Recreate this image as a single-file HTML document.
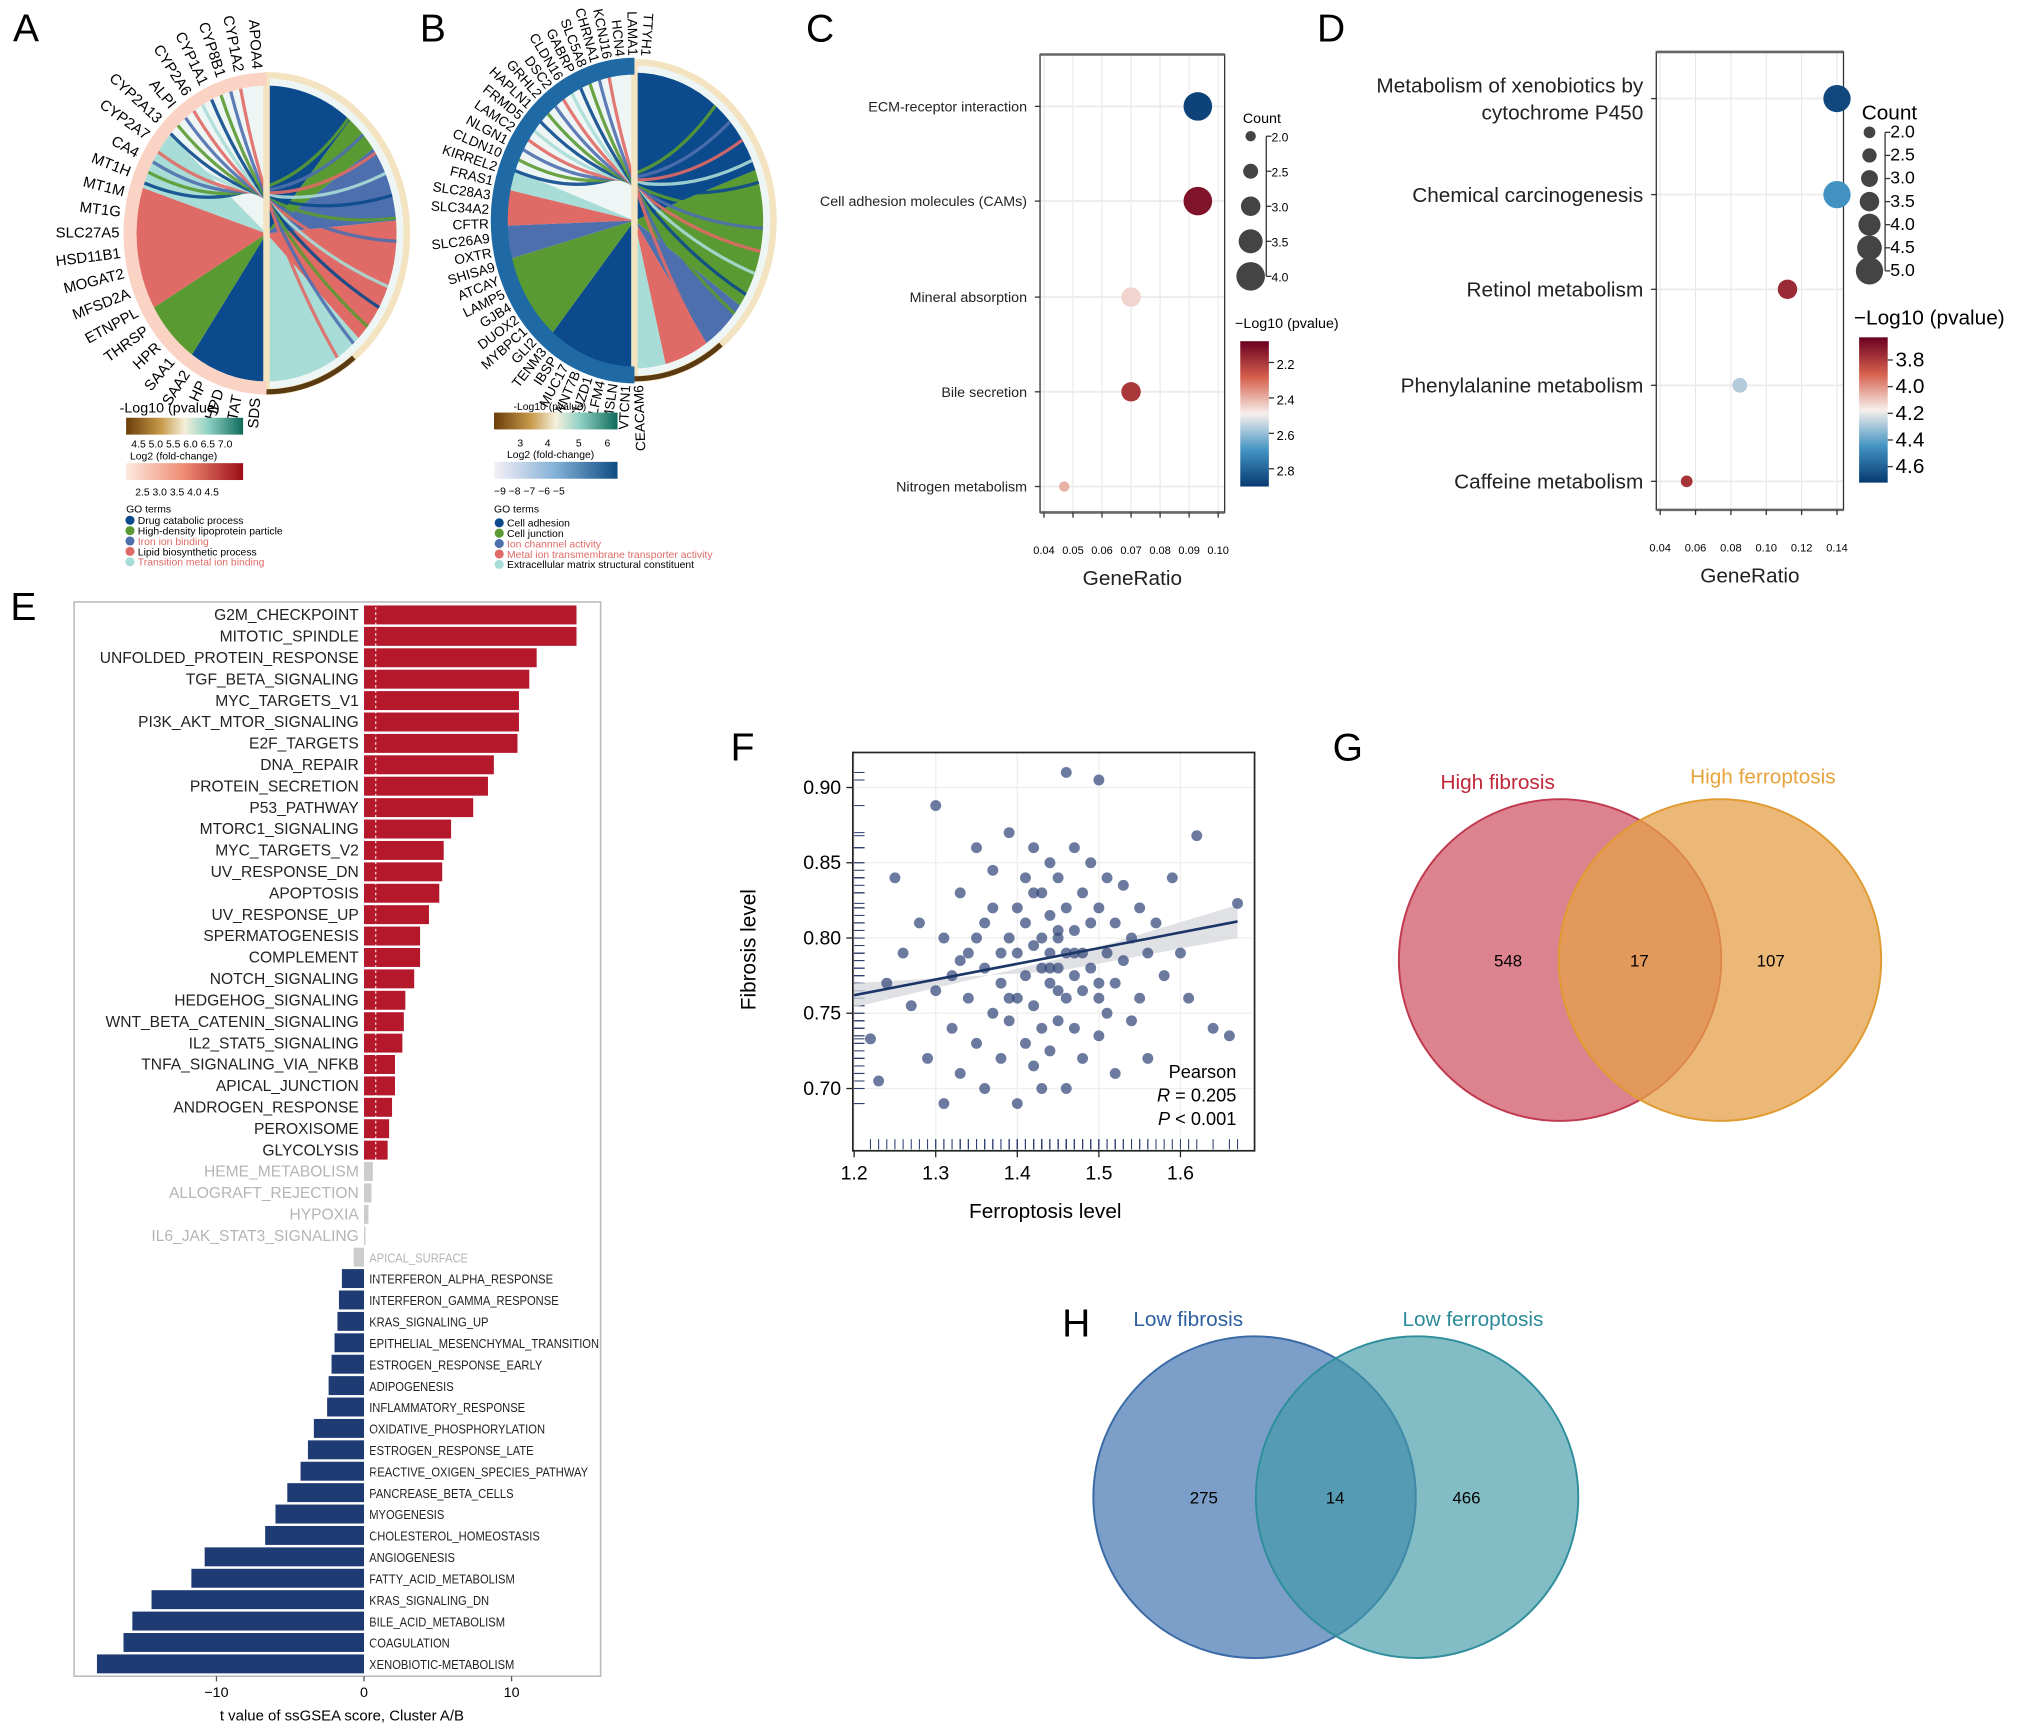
<!DOCTYPE html>
<html><head><meta charset="utf-8">
<style>
html,body{margin:0;padding:0;background:#fff;}
svg{display:block;font-family:"Liberation Sans",Arial,sans-serif;}
</style></head>
<body>
<svg id="fig" width="2032" height="1732" viewBox="0 0 1563 1335" preserveAspectRatio="none" xmlns="http://www.w3.org/2000/svg">
<rect width="1563" height="1335" fill="#fff"/>
<g font-size="30" fill="#000">
<text x="10" y="32">A</text>
<text x="323" y="32">B</text>
<text x="620" y="32">C</text>
<text x="1013" y="32">D</text>
<text x="8" y="478">E</text>
<text x="562" y="586">F</text>
<text x="1025" y="586">G</text>
<text x="817" y="1030">H</text>
</g>
<g id="chordA"></g>
<g id="chordB"></g>
<g id="legA" font-size="8">
<text x="92" y="318" font-size="11">-Log10 (pvalue)</text>
<defs>
<linearGradient id="gBrTeal"><stop offset="0" stop-color="#6b3d0a"/><stop offset="0.3" stop-color="#c89a4a"/><stop offset="0.5" stop-color="#f5f0dc"/><stop offset="0.7" stop-color="#8fd0c4"/><stop offset="1" stop-color="#0e6b5a"/></linearGradient>
<linearGradient id="gReds"><stop offset="0" stop-color="#fde9df"/><stop offset="0.5" stop-color="#ef8a72"/><stop offset="1" stop-color="#9b0d17"/></linearGradient>
<linearGradient id="gBlues"><stop offset="0" stop-color="#f7f0f7"/><stop offset="0.5" stop-color="#82b0d6"/><stop offset="1" stop-color="#0f4c82"/></linearGradient>
<linearGradient id="gRdBu" x1="0" y1="0" x2="0" y2="1"><stop offset="0" stop-color="#6a0020"/><stop offset="0.25" stop-color="#d6604d"/><stop offset="0.5" stop-color="#f7f0ec"/><stop offset="0.75" stop-color="#4393c3"/><stop offset="1" stop-color="#073a70"/></linearGradient>
</defs>
<rect x="97" y="322" width="90" height="13" fill="url(#gBrTeal)"/>
<text x="101" y="345">4.5 5.0 5.5 6.0 6.5 7.0</text>
<text x="100" y="354">Log2 (fold-change)</text>
<rect x="97" y="357" width="90" height="13" fill="url(#gReds)"/>
<text x="104" y="382">2.5 3.0 3.5 4.0 4.5</text>
<text x="97" y="395">GO terms</text>
<circle cx="100" cy="401" r="3.5" fill="#0b4a8c"/><text x="106" y="404">Drug catabolic process</text>
<circle cx="100" cy="409" r="3.5" fill="#5a9a32"/><text x="106" y="412">High-density lipoprotein particle</text>
<circle cx="100" cy="417" r="3.5" fill="#4e6fae"/><text x="106" y="420" fill="#e06a66">Iron ion binding</text>
<circle cx="100" cy="425" r="3.5" fill="#e06a66"/><text x="106" y="428">Lipid biosynthetic process</text>
<circle cx="100" cy="433" r="3.5" fill="#a8dcd6"/><text x="106" y="436" fill="#e06a66">Transition metal ion binding</text>
</g>
<g id="legB" font-size="8">
<text x="395" y="316">-Log10 (pvalue)</text>
<rect x="380" y="318" width="95" height="13" fill="url(#gBrTeal)"/>
<text x="398" y="344">3</text><text x="419" y="344">4</text><text x="443" y="344">5</text><text x="465" y="344">6</text>
<text x="390" y="353">Log2 (fold-change)</text>
<rect x="380" y="356" width="95" height="13" fill="url(#gBlues)"/>
<text x="380" y="381">−9 −8 −7 −6 −5</text>
<text x="380" y="395">GO terms</text>
<circle cx="384" cy="403" r="3.5" fill="#0b4a8c"/><text x="390" y="406">Cell adhesion</text>
<circle cx="384" cy="411" r="3.5" fill="#5a9a32"/><text x="390" y="414">Cell junction</text>
<circle cx="384" cy="419" r="3.5" fill="#4e6fae"/><text x="390" y="422" fill="#e06a66">Ion channnel activity</text>
<circle cx="384" cy="427" r="3.5" fill="#e06a66"/><text x="390" y="430" fill="#e06a66">Metal ion transmembrane transporter activity</text>
<circle cx="384" cy="435" r="3.5" fill="#a8dcd6"/><text x="390" y="438">Extracellular matrix structural constituent</text>
</g>
<g id="dotC"></g>
<g id="dotD"></g>
<g id="barE"></g>
<g id="scatF"></g>
<g id="vennG">
<circle cx="1200" cy="740" r="124" fill="#d2606f" fill-opacity="0.78" stroke="#c0394e" stroke-width="1.5"/>
<circle cx="1323" cy="740" r="124" fill="#e6a04a" fill-opacity="0.75" stroke="#e09a30" stroke-width="1.5"/>
<text x="1152" y="608" font-size="16" fill="#c0273a" text-anchor="middle">High fibrosis</text>
<text x="1356" y="604" font-size="16" fill="#e8a23c" text-anchor="middle">High ferroptosis</text>
<text x="1160" y="745" font-size="13" text-anchor="middle">548</text>
<text x="1261" y="745" font-size="13" text-anchor="middle">17</text>
<text x="1362" y="745" font-size="13" text-anchor="middle">107</text>
</g>
<g id="vennH">
<circle cx="965" cy="1154" r="124" fill="#4f7fb5" fill-opacity="0.75" stroke="#3a6aa5" stroke-width="1.5"/>
<circle cx="1090" cy="1154" r="124" fill="#3f9aa8" fill-opacity="0.65" stroke="#2f8e9c" stroke-width="1.5"/>
<text x="914" y="1022" font-size="16" fill="#2d5f9e" text-anchor="middle">Low fibrosis</text>
<text x="1133" y="1022" font-size="16" fill="#2a8a98" text-anchor="middle">Low ferroptosis</text>
<text x="926" y="1159" font-size="13" text-anchor="middle">275</text>
<text x="1027" y="1159" font-size="13" text-anchor="middle">14</text>
<text x="1128" y="1159" font-size="13" text-anchor="middle">466</text>
</g>
</svg>
<script>
const NS="http://www.w3.org/2000/svg";
function mk(p,tag,attrs,txt){const e=document.createElementNS(NS,tag);for(const k in attrs)e.setAttribute(k,attrs[k]);if(txt!==undefined)e.textContent=txt;p.appendChild(e);return e;}

/* ---------- Chord A / B data ---------- */
const genesA=["APOA4","CYP1A2","CYP8B1","CYP1A1","CYP2A6","ALPI","CYP2A13","CYP2A7","CA4","MT1H","MT1M","MT1G","SLC27A5","HSD11B1","MOGAT2","MFSD2A","ETNPPL","THRSP","HPR","SAA1","SAA2","HP","HPD","TAT","SDS"];
const genesB=["TTYH1","LAMA1","HCN4","KCNJ16","CHRNA1","SLC5A8","GABRP","CLDN16","DSC2","GRHL2","HAPLN1","FRMD5","LAMC2","NLGN1","CLDN10","KIRREL2","FRAS1","SLC28A3","SLC34A2","CFTR","SLC26A9","OXTR","SHISA9","ATCAY","LAMP5","GJB4","DUOX2","MYBPC1","GLI2","TENM3","IBSP","MUC17","WNT7B","CUZD1","OLFM4","MSLN","VTCN1","CEACAM6"];
const termColors=["#0b4a8c","#5a9a32","#4e6fae","#e06a66","#a8dcd6"];
const sectorsA=[[-90,-50,0],[-50,-35,1],[-35,-5,2],[-5,45,3],[45,90,4],[90,125,0],[125,150,1],[150,198,3],[198,222,4]];
const sectorsB=[[-90,-20,0],[-20,35,1],[35,56,2],[56,76,3],[76,90,4],[90,130,0],[130,165,1],[165,178,2],[178,192,3],[192,200,4]];
function wedge(cx,cy,rx,ry,a0,a1){const r=Math.PI/180;const x0=cx+rx*Math.cos(a0*r),y0=cy+ry*Math.sin(a0*r),x1=cx+rx*Math.cos(a1*r),y1=cy+ry*Math.sin(a1*r);return `M${cx},${cy} L${x0},${y0} A${rx},${ry} 0 ${a1-a0>180?1:0} 1 ${x1},${y1} Z`;}
function chord(g,cx,cy,rx,ry,sectors,genes,a0,a1,ringColor,ringLeft){
  mk(g,"ellipse",{cx:cx,cy:cy,rx:rx,ry:ry,fill:"#eef6f5"});
  sectors.forEach(s=>{const p=mk(g,"path",{d:wedge(cx,cy,rx-8,ry-8,s[0],s[1]),fill:termColors[s[2]]});
    
    });
  for(let i=0;i<14;i++){const a=(200+i*4.5)*Math.PI/180;const b=(-60+i*9)*Math.PI/180;
    mk(g,"path",{d:`M${cx+(rx-8)*Math.cos(a)},${cy+(ry-8)*Math.sin(a)} Q${cx},${cy} ${cx+(rx-8)*Math.cos(b)},${cy+(ry-8)*Math.sin(b)}`,stroke:termColors[i%5],"stroke-width":2.5,fill:"none",opacity:0.9});}
  mk(g,"path",{d:wedge(cx,cy,rx,ry,-90,90)+" M0,0",fill:"none",stroke:"#f3e3c0","stroke-width":5});
  const ring=mk(g,"path",{d:`M${cx},${cy-ry+3} A${rx-3},${ry-3} 0 0 0 ${cx},${cy+ry-3}`,fill:"none",stroke:ringLeft,"stroke-width":ringColor});
  
  
  mk(g,"path",{d:`M${cx+rx*Math.cos(0.9)},${cy+ry*Math.sin(0.9)} A${rx},${ry} 0 0 1 ${cx},${cy+ry}`,fill:"none",stroke:"#5a3a10","stroke-width":4});
  genes.forEach((n,i)=>{const th=a0+(a1-a0)*i/(genes.length-1);const r=th*Math.PI/180;
    const x=cx+(rx+5)*Math.cos(r),y=cy+(ry+5)*Math.sin(r);
    const t=mk(g,"text",{x:x,y:y,"font-size":genes.length>30?10.5:11.5,"text-anchor":"end","dominant-baseline":"middle",transform:`rotate(${th-180} ${x} ${y})`},n);
    
    });
}
chord(document.getElementById("chordA"),205,180,108,122,sectorsA,genesA,266,94,10,"#fbd3c4");
chord(document.getElementById("chordB"),488,170,107,122,sectorsB,genesB,274,88,13,"#1f6aa5");

/* ---------- Dot plot C ---------- */
const termsC=["ECM-receptor interaction","Cell adhesion molecules (CAMs)","Mineral absorption","Bile secretion","Nitrogen metabolism"];
const ratioC=[0.093,0.093,0.070,0.070,0.047];
const countC=[4.0,4.0,3.0,3.0,2.0];
const pC=[2.88,2.12,2.45,2.2,2.4];
const ticksC=[0.04,0.05,0.06,0.07,0.08,0.09,0.10];
const countTicksC=[2.0,2.5,3.0,3.5,4.0];
const pTicksC=[2.2,2.4,2.6,2.8];
/* ---------- Dot plot D ---------- */
const termsD=[["Metabolism of xenobiotics by","cytochrome P450"],["Chemical carcinogenesis"],["Retinol metabolism"],["Phenylalanine metabolism"],["Caffeine metabolism"]];
const ratioD=[0.14,0.14,0.112,0.085,0.055];
const countD=[5.0,5.0,3.5,2.6,2.0];
const pD=[4.68,4.45,3.75,4.28,3.78];
const ticksD=[0.04,0.06,0.08,0.10,0.12,0.14];
const countTicksD=[2.0,2.5,3.0,3.5,4.0,4.5,5.0];
const pTicksD=[3.8,4.0,4.2,4.4,4.6];
const rdbu=[[106,0,32],[214,96,77],[247,240,236],[67,147,195],[7,58,112]];
function colRdBu(t){t=Math.max(0,Math.min(1,t));const s=t*4,i=Math.min(3,Math.floor(s)),f=s-i;const a=rdbu[i],b=rdbu[i+1];return `rgb(${a.map((v,k)=>Math.round(v+(b[k]-v)*f)).join(",")})`;}
function dotplot(g,o){
  const {x0,x1,y0,y1,xmin,xmax,rowY,terms,ratio,count,p,ticks,cmin,cmax,rmin,rmax,pmin,pmax,countTicks,pTicks,leg,lfs,tfs}=o;
  const sx=v=>x0+3+(v-xmin)/(xmax-xmin)*(x1-x0-8);
  const sr=c=>rmin+(c-cmin)/(cmax-cmin)*(rmax-rmin);
  ticks.forEach(t=>mk(g,"line",{x1:sx(t),x2:sx(t),y1:y0,y2:y1,stroke:"#e6e6e6","stroke-width":0.8}));
  rowY.forEach(y=>mk(g,"line",{x1:x0,x2:x1,y1:y,y2:y,stroke:"#ececec","stroke-width":1.5}));
  mk(g,"rect",{x:x0,y:y0,width:x1-x0,height:y1-y0,fill:"none",stroke:"#333","stroke-width":1});
  mk(g,"line",{x1:x0,x2:x1,y1:y0,y2:y0,stroke:"#666","stroke-width":2});
  mk(g,"line",{x1:x0,x2:x1,y1:y1,y2:y1,stroke:"#666","stroke-width":2});
  ticks.forEach(t=>{mk(g,"line",{x1:sx(t),x2:sx(t),y1:y1,y2:y1+4,stroke:"#333"});
    const tl=mk(g,"text",{x:sx(t),y:y1+34-26,"font-size":8.5,"text-anchor":"middle",transform:`translate(0,24)`},t.toFixed(2));
    
    });
  const xt=mk(g,"text",{x:(x0+x1)/2,y:y1+56,"font-size":16,"text-anchor":"middle",fill:"#222"},"GeneRatio");
  
  
  terms.forEach((tm,i)=>{mk(g,"line",{x1:x0-4,x2:x0,y1:rowY[i],y2:rowY[i],stroke:"#333"});
    const lines=Array.isArray(tm)?tm:[tm];
    lines.forEach((ln,j)=>{const t=mk(g,"text",{x:x0-10,y:rowY[i]+tfs*0.35+(j-(lines.length-1)/2)*tfs*1.3,"font-size":tfs,"text-anchor":"end",fill:"#222"},ln);
      
      });
    const c=mk(g,"circle",{cx:sx(ratio[i]),cy:rowY[i],r:sr(count[i]),fill:colRdBu((p[i]-pmin)/(pmax-pmin))});
    
    });
  // count legend
  mk(g,"text",{x:leg.x-6,y:leg.cy0-10,"font-size":lfs},"Count");
  countTicks.forEach((c,i)=>{const y=leg.cy0+i*leg.dy;mk(g,"circle",{cx:leg.x,cy:y,r:sr(c),fill:"#444"});
    mk(g,"line",{x1:leg.x+12,x2:leg.x+16,y1:y,y2:y,stroke:"#333"});
    mk(g,"text",{x:leg.x+16,y:y+4,"font-size":lfs*0.85},c.toFixed(1));});
  mk(g,"line",{x1:leg.x+12,x2:leg.x+12,y1:leg.cy0,y2:leg.cy0+(countTicks.length-1)*leg.dy,stroke:"#333"});
  // colorbar
  mk(g,"text",{x:leg.x-12,y:leg.by0-10,"font-size":lfs},"−Log10 (pvalue)");
  mk(g,"rect",{x:leg.x-8,y:leg.by0,width:leg.bw,height:leg.bh,fill:"url(#gRdBu)"});
  pTicks.forEach(v=>{const y=leg.by0+(v-pmin)/(pmax-pmin)*leg.bh;
    mk(g,"line",{x1:leg.x-8+leg.bw,x2:leg.x-4+leg.bw,y1:y,y2:y,stroke:"#333"});
    mk(g,"text",{x:leg.x-2+leg.bw,y:y+5,"font-size":lfs*(lfs>13?1:0.9)},v.toFixed(1));});
}
dotplot(document.getElementById("dotC"),{x0:800,x1:942,y0:42,y1:395,xmin:0.04,xmax:0.10,rowY:[82,155,229,302,375],terms:termsC,ratio:ratioC,count:countC,p:pC,ticks:ticksC,cmin:2,cmax:4,rmin:4,rmax:11,pmin:2.08,pmax:2.9,countTicks:countTicksC,pTicks:pTicksC,leg:{x:962,cy0:105,dy:27,by0:263,bw:22,bh:112},lfs:11,tfs:11});
dotplot(document.getElementById("dotD"),{x0:1274,x1:1418,y0:40,y1:393,xmin:0.04,xmax:0.14,rowY:[76,150,223,297,371],terms:termsD,ratio:ratioD,count:countD,p:pD,ticks:ticksD,cmin:2,cmax:5,rmin:4.5,rmax:10.5,pmin:3.63,pmax:4.72,countTicks:countTicksD,pTicks:pTicksD,leg:{x:1438,cy0:102,dy:17.8,by0:260,bw:22,bh:112},lfs:16,tfs:16});

/* ---------- Bar chart E ---------- */
const pathways=["G2M_CHECKPOINT","MITOTIC_SPINDLE","UNFOLDED_PROTEIN_RESPONSE","TGF_BETA_SIGNALING","MYC_TARGETS_V1","PI3K_AKT_MTOR_SIGNALING","E2F_TARGETS","DNA_REPAIR","PROTEIN_SECRETION","P53_PATHWAY","MTORC1_SIGNALING","MYC_TARGETS_V2","UV_RESPONSE_DN","APOPTOSIS","UV_RESPONSE_UP","SPERMATOGENESIS","COMPLEMENT","NOTCH_SIGNALING","HEDGEHOG_SIGNALING","WNT_BETA_CATENIN_SIGNALING","IL2_STAT5_SIGNALING","TNFA_SIGNALING_VIA_NFKB","APICAL_JUNCTION","ANDROGEN_RESPONSE","PEROXISOME","GLYCOLYSIS","HEME_METABOLISM","ALLOGRAFT_REJECTION","HYPOXIA","IL6_JAK_STAT3_SIGNALING","APICAL_SURFACE","INTERFERON_ALPHA_RESPONSE","INTERFERON_GAMMA_RESPONSE","KRAS_SIGNALING_UP","EPITHELIAL_MESENCHYMAL_TRANSITION","ESTROGEN_RESPONSE_EARLY","ADIPOGENESIS","INFLAMMATORY_RESPONSE","OXIDATIVE_PHOSPHORYLATION","ESTROGEN_RESPONSE_LATE","REACTIVE_OXIGEN_SPECIES_PATHWAY","PANCREASE_BETA_CELLS","MYOGENESIS","CHOLESTEROL_HOMEOSTASIS","ANGIOGENESIS","FATTY_ACID_METABOLISM","KRAS_SIGNALING_DN","BILE_ACID_METABOLISM","COAGULATION","XENOBIOTIC-METABOLISM"];
const tValues=[14.4,14.4,11.7,11.2,10.5,10.5,10.4,8.8,8.4,7.4,5.9,5.4,5.3,5.1,4.4,3.8,3.8,3.4,2.8,2.7,2.6,2.1,2.1,1.9,1.7,1.6,0.6,0.5,0.3,0.1,-0.7,-1.5,-1.7,-1.8,-2.0,-2.2,-2.4,-2.5,-3.4,-3.8,-4.3,-5.2,-6.0,-6.7,-10.8,-11.7,-14.4,-15.7,-16.3,-18.1];
const xTicksE=[-10,0,10];
(function(){
  const g=document.getElementById("barE");
  const X0=57,X1=462,Y0=464,Y1=1292,zero=280,unit=11.35,row0=474,dy=16.5;
  const sx=v=>zero+v*unit;
  mk(g,"rect",{x:X0,y:Y0,width:X1-X0,height:Y1-Y0,fill:"#fff",stroke:"#bbb","stroke-width":1.2});
  tValues.forEach((v,i)=>{const y=row0+i*dy;const sig=Math.abs(v)>1;
    const col=!sig?"#cccccc":(v>0?"#b5172b":"#1f3b73");
    const b=mk(g,"rect",{x:Math.min(sx(v),zero),y:y-7.3,width:Math.abs(v*unit),height:14.6,fill:col});
    
    
    const right=v>0;
    const t=mk(g,"text",{x:right?zero-4:zero+4,y:y+4,"font-size":right?12:10,"text-anchor":right?"end":"start",fill:sig?"#222":"#b5b5b5",textLength:"",},pathways[i]);
    t.removeAttribute("textLength");
    if(!right){t.setAttribute("transform",`translate(${zero+4},0) scale(0.86,1) translate(${-(zero+4)},0)`);}
    
    });
  mk(g,"line",{x1:zero+9,x2:zero+9,y1:Y0+4,y2:Y1-4,stroke:"#fff","stroke-width":1,"stroke-dasharray":"2,2",opacity:0.8});
  mk(g,"rect",{x:X0+60,y:1290,width:1,height:0,fill:"none"});
  xTicksE.forEach(v=>{mk(g,"line",{x1:sx(v),x2:sx(v),y1:Y1,y2:Y1+4,stroke:"#555"});
    const tl=mk(g,"text",{x:sx(v),y:Y1+16,"font-size":11,"text-anchor":"middle"},v===-10?"−10":String(v));
    
    });
  const xt=mk(g,"text",{x:263,y:1326,"font-size":11.5,"text-anchor":"middle"},"t value of ssGSEA score, Cluster A/B");
  
  
})();

/* ---------- Scatter F ---------- */
const ferroX=[1.22,1.23,1.24,1.25,1.26,1.27,1.28,1.29,1.30,1.30,1.31,1.31,1.32,1.32,1.33,1.33,1.34,1.34,1.35,1.35,1.35,1.36,1.36,1.37,1.37,1.37,1.38,1.38,1.38,1.39,1.39,1.39,1.40,1.40,1.40,1.40,1.41,1.41,1.41,1.41,1.42,1.42,1.42,1.42,1.43,1.43,1.43,1.43,1.43,1.44,1.44,1.44,1.44,1.44,1.45,1.45,1.45,1.45,1.45,1.46,1.46,1.46,1.46,1.46,1.47,1.47,1.47,1.47,1.48,1.48,1.48,1.48,1.49,1.49,1.49,1.50,1.50,1.50,1.50,1.51,1.51,1.51,1.52,1.52,1.52,1.53,1.53,1.54,1.54,1.55,1.55,1.56,1.56,1.57,1.58,1.59,1.60,1.61,1.62,1.64,1.66,1.67,1.36,1.42,1.44,1.47,1.39,1.45,1.50,1.33];
const fibroY=[0.733,0.705,0.77,0.84,0.79,0.755,0.81,0.72,0.888,0.765,0.80,0.69,0.775,0.74,0.83,0.71,0.79,0.76,0.86,0.73,0.80,0.78,0.70,0.82,0.75,0.845,0.79,0.72,0.77,0.87,0.80,0.745,0.82,0.76,0.69,0.79,0.84,0.775,0.73,0.81,0.86,0.795,0.755,0.715,0.83,0.78,0.80,0.74,0.70,0.85,0.815,0.77,0.79,0.725,0.84,0.80,0.765,0.78,0.745,0.91,0.82,0.79,0.76,0.70,0.86,0.805,0.775,0.74,0.83,0.79,0.765,0.72,0.85,0.81,0.78,0.905,0.82,0.76,0.735,0.84,0.79,0.75,0.81,0.77,0.71,0.835,0.785,0.80,0.745,0.82,0.76,0.79,0.72,0.81,0.775,0.84,0.79,0.76,0.868,0.74,0.735,0.823,0.81,0.83,0.78,0.79,0.76,0.805,0.77,0.785];
const fTicksX=[1.2,1.3,1.4,1.5,1.6];
const fTicksY=[0.70,0.75,0.80,0.85,0.90];
const fitLine=[[1.2,0.762],[1.67,0.811]];
(function(){
  const g=document.getElementById("scatF");
  const X0=656,X1=965,Y0=580,Y1=887;
  const sx=v=>657+(v-1.2)*627.5, sy=v=>839-(v-0.70)*1160;
  mk(g,"rect",{x:X0,y:Y0,width:X1-X0,height:Y1-Y0,fill:"#fff"});
  fTicksX.forEach(v=>mk(g,"line",{x1:sx(v),x2:sx(v),y1:Y0,y2:Y1,stroke:"#eeeeee"}));
  fTicksY.forEach(v=>mk(g,"line",{x1:X0,x2:X1,y1:sy(v),y2:sy(v),stroke:"#eeeeee"}));
  ferroX.forEach((x,i)=>{mk(g,"line",{x1:sx(x),x2:sx(x),y1:Y1-1,y2:Y1-9,stroke:"#2c3e6e","stroke-width":0.8});
    mk(g,"line",{x1:X0+1,x2:X0+9,y1:sy(fibroY[i]),y2:sy(fibroY[i]),stroke:"#2c3e6e","stroke-width":0.8});});
  const band=`M${sx(1.2)},${sy(0.754)} L${sx(1.45)},${sy(0.786)} L${sx(1.67)},${sy(0.822)} L${sx(1.67)},${sy(0.800)} L${sx(1.45)},${sy(0.778)} L${sx(1.2)},${sy(0.770)} Z`;
  mk(g,"path",{d:band,fill:"#d8dade",opacity:0.8});
  ferroX.forEach((x,i)=>{const c=mk(g,"circle",{cx:sx(x),cy:sy(fibroY[i]),r:4.2,fill:"#33477a","fill-opacity":0.72});
    
    });
  const fl=mk(g,"line",{x1:sx(fitLine[0][0]),y1:sy(fitLine[0][1]),x2:sx(fitLine[1][0]),y2:sy(fitLine[1][1]),stroke:"#1b3566","stroke-width":2});
  
  
  mk(g,"rect",{x:X0,y:Y0,width:X1-X0,height:Y1-Y0,fill:"none",stroke:"#222","stroke-width":1.3});
  fTicksX.forEach(v=>{mk(g,"line",{x1:sx(v),x2:sx(v),y1:Y1,y2:Y1+5,stroke:"#222"});
    const t=mk(g,"text",{x:sx(v),y:Y1+22,"font-size":15,"text-anchor":"middle"},v.toFixed(1));
    
    });
  fTicksY.forEach(v=>{mk(g,"line",{x1:X0-5,x2:X0,y1:sy(v),y2:sy(v),stroke:"#222"});
    const t=mk(g,"text",{x:X0-9,y:sy(v)+5,"font-size":15,"text-anchor":"end"},v.toFixed(2));
    
    });
  const xt=mk(g,"text",{x:804,y:939,"font-size":16,"text-anchor":"middle"},"Ferroptosis level");
  
  
  const yt=mk(g,"text",{x:0,y:0,"font-size":16,"text-anchor":"middle",transform:"translate(581,732) rotate(-90)"},"Fibrosis level");
  
  
  const a1=mk(g,"text",{x:951,y:831,"font-size":14,"text-anchor":"end"},"Pearson");
  
  
  const a2=mk(g,"text",{x:951,y:849,"font-size":14,"text-anchor":"end"});a2.innerHTML='<tspan font-style="italic">R</tspan> = 0.205';
  
  
  const a3=mk(g,"text",{x:951,y:867,"font-size":14,"text-anchor":"end"});a3.innerHTML='<tspan font-style="italic">P</tspan> &lt; 0.001';
  
  
})();
</script>
</body></html>
